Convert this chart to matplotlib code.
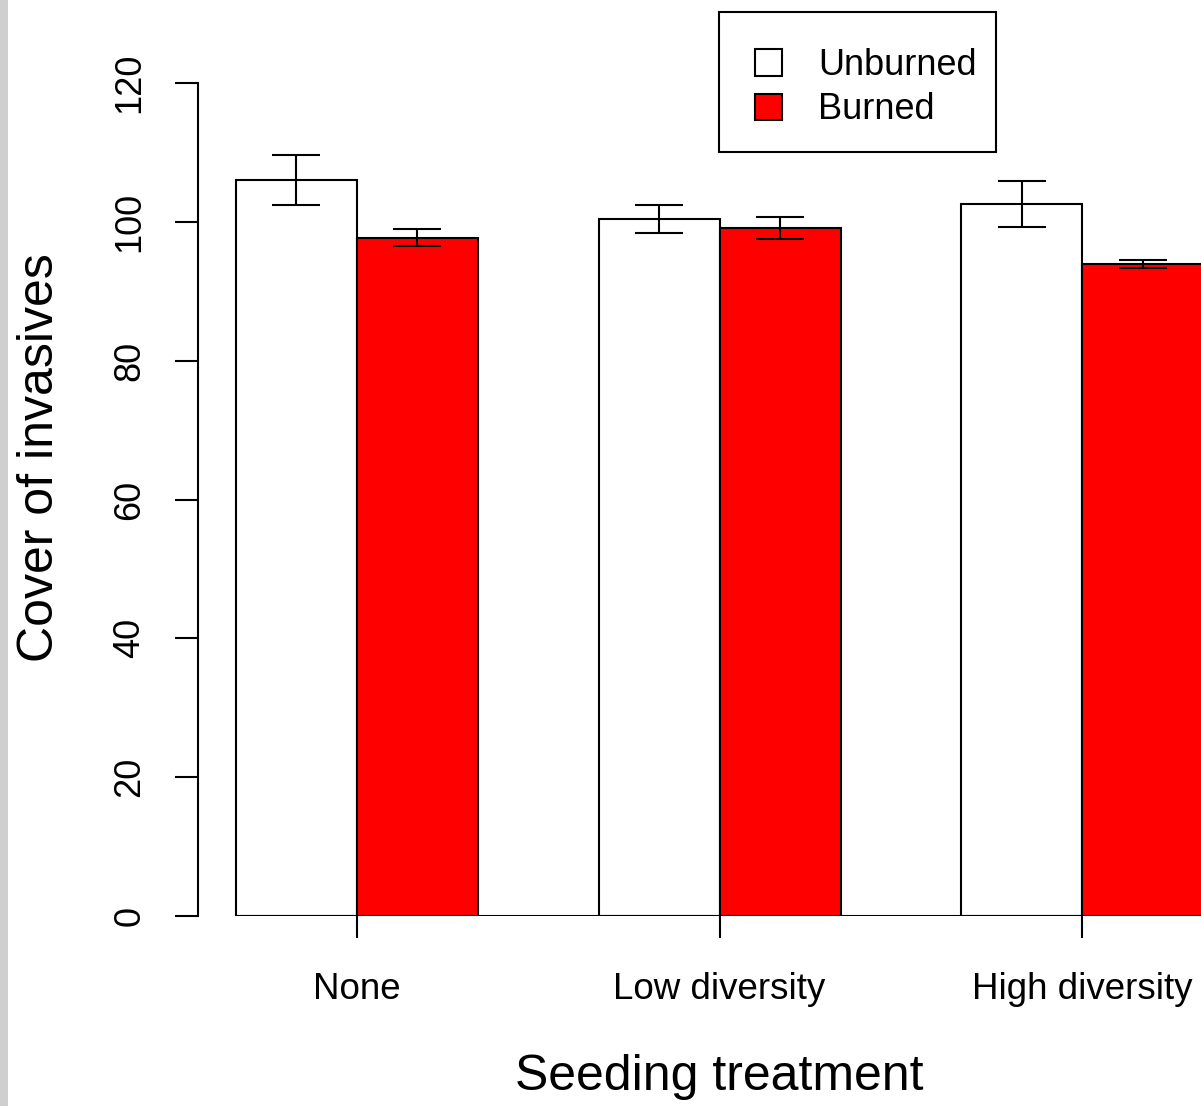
import numpy as np
import matplotlib
matplotlib.use('Agg')
from matplotlib import pyplot as plt
from matplotlib.patches import Patch, Rectangle

plt.rcParams['font.family'] = ['Liberation Sans', 'DejaVu Sans']

# Data
categories = ['None', 'Low diversity', 'High diversity']
unburned = [106.0, 100.4, 102.6]
burned = [97.7, 99.1, 93.9]
unburned_se = [3.6, 2.0, 3.3]
burned_se = [1.2, 1.6, 0.6]

# R barplot style positions: bar width 1, one bar gap between groups
left_unburned = np.array([1, 4, 7])
left_burned = left_unburned + 1

W, H = 1201, 1106
fig = plt.figure(figsize=(W / 100, H / 100), dpi=100)
# textured grey strip on the left edge of the screenshot
fig.patches.append(Rectangle((0, 0), 8 / W, 1, transform=fig.transFigure,
                             facecolor='#cfcfcf', edgecolor='none'))

ax = fig.add_axes([198 / W, 190 / H, 1003 / W, 833 / H])
ax.set_xlim(1 + (198 - 236) / 120.9, 1 + (1201 - 236) / 120.9)
ax.set_ylim(0, 120)

ax.bar(left_unburned, unburned, width=1, align='edge', color='white',
       edgecolor='black', linewidth=1.5, label='Unburned')
ax.bar(left_burned, burned, width=1, align='edge', color='#ff0000',
       edgecolor='black', linewidth=1.5, label='Burned')
ax.errorbar(left_unburned + 0.5, unburned, yerr=unburned_se, fmt='none',
            ecolor='black', elinewidth=1.5, capsize=17, capthick=1.5)
ax.errorbar(left_burned + 0.5, burned, yerr=burned_se, fmt='none',
            ecolor='black', elinewidth=1.5, capsize=17, capthick=1.5)
x0, x1 = ax.get_xlim()
ax.axhline(0, xmin=(1 - x0) / (x1 - x0), color='black', linewidth=1.5)

for side in ['top', 'right', 'bottom']:
    ax.spines[side].set_visible(False)
ax.spines['left'].set_linewidth(1.5)
ax.spines['left'].set_bounds(0, 120)

ax.set_yticks(np.arange(0, 121, 20))
ax.set_xticks(left_burned)
ax.set_xticklabels(categories)
ax.tick_params(axis='y', length=16.5, width=1.5, pad=20, labelsize=26, labelrotation=90)
ax.tick_params(axis='x', length=16, width=1.5, pad=24, labelsize=26.5)
for lab in ax.get_yticklabels():
    lab.set_va('center')

ax.set_ylabel('Cover of invasives', fontsize=36)
ax.set_xlabel('Seeding treatment', fontsize=36)
ax.yaxis.set_label_coords((53 - 198) / 1003, (916 - 458) / 833)
ax.yaxis.label.set_va('baseline')
ax.xaxis.set_label_coords((719 - 198) / 1003, (916 - 1090) / 833)
ax.xaxis.label.set_va('baseline')

# legend frame drawn separately, entries placed inside it
fig.patches.append(Rectangle((719 / W, 1 - 152 / H), 277 / W, 140 / H,
                             transform=fig.transFigure, facecolor='white',
                             edgecolor='black', linewidth=1.5, zorder=3))
handles = [Patch(facecolor='white', edgecolor='black', linewidth=1.5),
           Patch(facecolor='#ff0000', edgecolor='black', linewidth=1.5)]
leg = fig.legend(handles, ['Unburned', 'Burned'], loc='upper left',
                 bbox_to_anchor=(755 / W, 1 - 48 / H), fontsize=26,
                 handlelength=0.75, handleheight=0.75, handletextpad=1.0,
                 labelspacing=0.26, borderpad=0, borderaxespad=0,
                 frameon=False)

plt.savefig('out.png', dpi=100)
